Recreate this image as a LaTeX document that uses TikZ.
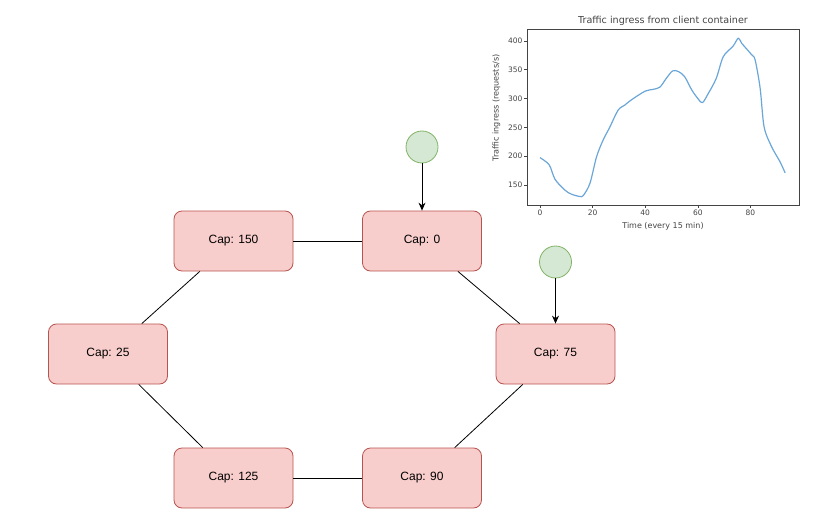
\documentclass[tikz,border=0pt]{standalone}
\usepackage{fontspec}
\setmainfont{Liberation Sans}
\newfontfamily\plotfont{DejaVu Sans}
\usetikzlibrary{arrows.meta}
\definecolor{capfill}{HTML}{F8CECC}
\definecolor{capline}{HTML}{B85450}
\definecolor{srcfill}{HTML}{D5E8D4}
\definecolor{srcline}{HTML}{82B366}
\definecolor{plotblue}{HTML}{6AA6D8}
\definecolor{plotgray}{HTML}{444444}

\begin{document}
\begin{tikzpicture}[x=1pt,y=-1pt,
    capbox/.style={draw=capline, fill=capfill, rounded corners=8pt, minimum width=119pt,
      minimum height=60pt, line width=0.8pt, font=\fontsize{12}{14}\selectfont},
    source/.style={circle, draw=srcline, fill=srcfill, minimum size=32pt, inner sep=0pt, line width=0.8pt},
    link/.style={line width=0.8pt},
    feed/.style={line width=0.8pt, -{Stealth[length=8pt,width=7pt]}},
    plotaxis/.style={draw=plotgray, line width=0.6pt},
    ticklabel/.style={text=plotgray, inner sep=1.5pt, font=\plotfont\fontsize{7.5}{9}\selectfont}]
    \useasboundingbox (0,0) rectangle (813,516);

    % Capacity nodes
    \node[capbox] (cap150) at (233.5,241) {Cap: 150};
    \node[capbox] (cap0)   at (422,241)   {Cap: 0};
    \node[capbox] (cap25)  at (108,354)   {Cap: 25};
    \node[capbox] (cap75)  at (555.5,354) {Cap: 75};
    \node[capbox] (cap125) at (233.5,478) {Cap: 125};
    \node[capbox] (cap90)  at (422,478)   {Cap: 90};

    % Ring links
    \draw[link] (cap150) -- (cap0);
    \draw[link] (cap0) -- (cap75);
    \draw[link] (cap75) -- (cap90);
    \draw[link] (cap90) -- (cap125);
    \draw[link] (cap125) -- (cap25);
    \draw[link] (cap25) -- (cap150);

    % Traffic sources
    \node[source] (srcA) at (422,147) {};
    \node[source] (srcB) at (555.5,262) {};
    \draw[feed] (srcA) -- (cap0);
    \draw[feed] (srcB) -- (cap75);

    % Traffic plot
    \begin{scope}[xshift=540pt, yshift=-271.4pt, x=2.63pt, y=0.576pt]
        \draw[plotaxis] (-4.7,115.3) rectangle (98.5,420.8);
        \foreach \t in {0,20,...,80}
            \draw[plotaxis] (\t,115.3) -- ++(0,-6) node[below, ticklabel] (xt\t) {\t};
        \foreach \v in {150,200,...,400}
            \draw[plotaxis] (-4.7,\v) -- ++(-1.33,0) node[left, ticklabel] (yt\v) {\v};
        \draw[plotblue, line width=1.2pt, line join=round] plot[smooth, tension=0.5] coordinates {
            (0,197.5) (3.5,185) (5.7,160) (9.5,141) (12,134) (15.2,130) (16.5,132)
            (19,153) (21.5,199) (24,228) (26.6,251) (29.7,280) (32.3,289) (34.8,298)
            (40,313) (43,316) (45.6,320) (48,335) (50.4,348) (52.6,347) (55,338)
            (57.7,315) (60.2,299) (61.8,293) (64,309) (67,335) (69.7,373) (73.4,391)
            (75.4,405) (76.7,396) (80.5,376) (81.8,367) (83.7,318) (85.2,251) (88,217)
            (91.3,190) (93.2,171)};
    \end{scope}
    \node[text=plotgray, font=\plotfont\fontsize{9.6}{11}\selectfont] (plottitle) at (663,21) {Traffic ingress from client container};
    \node[ticklabel, font=\plotfont\fontsize{8}{9}\selectfont] (xlabel) at (663,226) {Time (every 15 min)};
    \node[ticklabel, rotate=90, font=\plotfont\fontsize{8.1}{9}\selectfont] (ylabel) at (496.5,108) {Traffic ingress (requests/s)};
\end{tikzpicture}
\end{document}
